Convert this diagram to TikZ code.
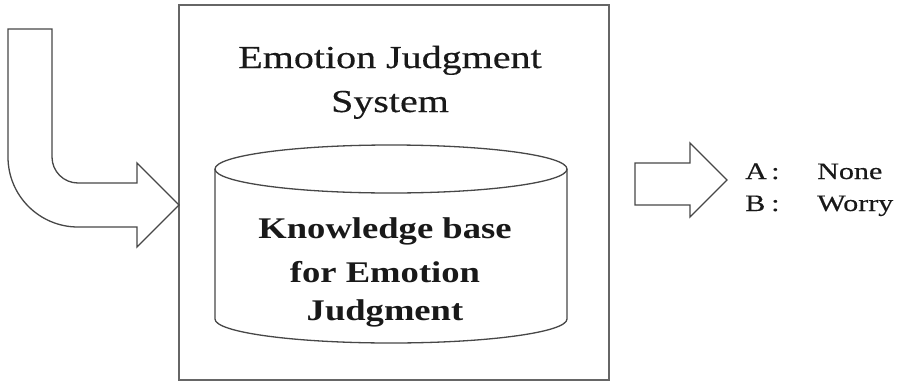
\documentclass[tikz,border=0pt]{standalone}
\usepackage{fontspec}
\setmainfont{Liberation Serif}
\newfontfamily\ttlfont[FakeStretch=1.25,FakeBold=0.4]{Liberation Serif}
\newfontfamily\kbfont[FakeStretch=1.22]{Liberation Serif}
\newfontfamily\lblfont[FakeStretch=1.28,FakeBold=0.3]{Liberation Serif}
\begin{document}
\begin{tikzpicture}[x=1pt,y=-1pt,
  outline/.style={draw=black!72,line width=1.3pt,line join=miter},
  title/.style={font=\ttlfont\fontsize{32}{38}\selectfont,anchor=base,inner sep=0pt,text=black!90},
  kb/.style={font=\kbfont\bfseries\fontsize{30}{36}\selectfont,anchor=base,inner sep=0pt,text=black!90},
  lbl/.style={font=\lblfont\fontsize{23.5}{28}\selectfont,anchor=base west,inner sep=0pt,text=black!90}]
\useasboundingbox (0,0) rectangle (899,383);
\fill[white] (0,0) rectangle (899,383);
% main box
\draw[outline,draw=black!60] (179,5) rectangle (609,380);
% bent input arrow
\draw[outline] (8,29) -- (52,29) -- (52,157) arc[start angle=180,end angle=90,radius=26] -- (137,183) -- (137,163) -- (179,205) -- (137,247) -- (137,227) -- (78,227) arc[start angle=90,end angle=180,radius=70] -- cycle;
% output arrow
\draw[outline] (635,163) -- (690,163) -- (690,143) -- (727,180) -- (690,217) -- (690,205) -- (635,205) -- cycle;
% cylinder
\draw[outline] (391,169) ellipse[x radius=176,y radius=24];
\draw[outline] (215,169) -- (215,319) arc[start angle=180,end angle=360,x radius=176,y radius=-24] -- (567,169);
% texts
\node[title] (t1) at (390,68) {Emotion Judgment};
\node[title] (t2) at (390,112) {System};
\node[kb] (k1) at (385,238) {Knowledge base};
\node[kb] (k2) at (385,282) {for Emotion};
\node[kb] (k3) at (385,320) {Judgment};
\node[lbl] (a1) at (745,179) {A};
\node[lbl] (a2) at (771,179) {:};
\node[lbl] (a3) at (817,179) {None};
\node[lbl] (b1) at (745,211) {B};
\node[lbl] (b2) at (771,211) {:};
\node[lbl] (b3) at (817,211) {Worry};
\end{tikzpicture}
\end{document}
